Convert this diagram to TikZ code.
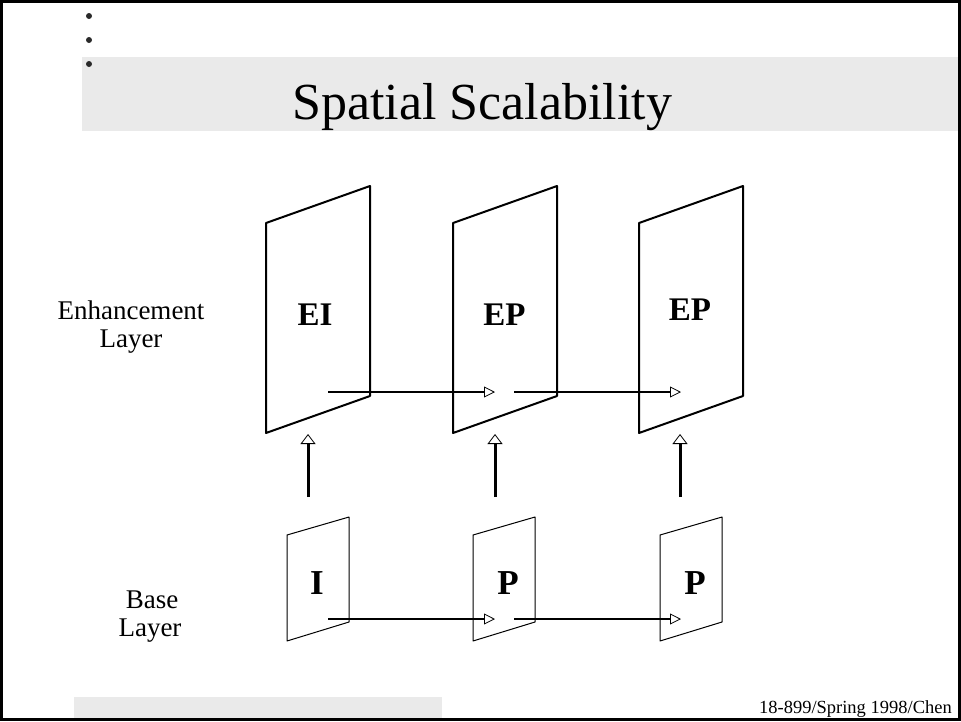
\documentclass[tikz,border=0pt]{standalone}
\usepackage{fontspec}
\setmainfont{Liberation Serif}
\usetikzlibrary{arrows.meta}
\definecolor{bandgray}{HTML}{EAEAEA}
\definecolor{dotgray}{HTML}{2A2A2A}
\begin{document}
\begin{tikzpicture}[x=1pt,y=-1pt,
  txt/.style={inner sep=0pt, anchor=base},
  lbl/.style={txt, font=\fontsize{27}{29}\selectfont},
  eframe/.style={draw, line width=2pt, line join=round},
  bframe/.style={draw, line width=1pt, line join=round},
  hollow/.style={draw, line width=2.2pt,
    arrows={-Triangle[fill=white, line width=0.8pt, length=11pt, width=11pt]}},
  hollowup/.style={draw, line width=3pt,
    arrows={-Triangle[fill=white, line width=0.8pt, length=10pt, width=15pt]}},
  eplane/.pic={\path[eframe] (0,0) -- (104,-37) -- (104,173) -- (0,210) -- cycle;},
  bplane/.pic={\path[bframe] (0,0) -- (62,-18) -- (62,87) -- (0,106) -- cycle;}]
\useasboundingbox (0,0) rectangle (961,721);

% slide background: title band, footer band, frame
\fill[bandgray] (82,57) rectangle (961,131);
\fill[bandgray] (74,697) rectangle (442,719);
\draw[line width=3pt] (1.5,1.5) rectangle (959.5,719.5);

% bullets
\foreach \yy in {16,40,64} \fill[dotgray] (89,\yy) circle (3);

% title and footer
\node[txt, font=\fontsize{52}{60}\selectfont] (title) at (482,119) {Spatial Scalability};
\node[inner sep=0pt, anchor=base east, font=\fontsize{18.5}{22}\selectfont] (footer) at (952,713) {18-899/Spring 1998/Chen};

% row labels
\node[lbl] (enhA) at (131,319) {Enhancement};
\node[lbl] (enhB) at (131,347) {Layer};
\node[lbl] (baseA) at (152,608) {Base};
\node[lbl] (baseB) at (150,636) {Layer};

% enhancement layer frames
\pic at (266,223) {eplane};
\pic at (453,223) {eplane};
\pic at (639,223) {eplane};
\node[txt, font=\bfseries\fontsize{33}{35}\selectfont] (EI) at (315,325) {EI};
\node[txt, font=\bfseries\fontsize{33}{35}\selectfont] (EP1) at (504.5,325) {EP};
\node[txt, font=\bfseries\fontsize{33}{35}\selectfont] (EP2) at (690,320) {EP};

% base layer frames
\pic at (287,535) {bplane};
\pic at (473,535) {bplane};
\pic at (660,535) {bplane};
\node[txt, font=\bfseries\fontsize{35}{37}\selectfont] (I) at (317,594) {I};
\node[txt, font=\bfseries\fontsize{35}{37}\selectfont] (P1) at (508,594) {P};
\node[txt, font=\bfseries\fontsize{35}{37}\selectfont] (P2) at (695,594) {P};

% connector end points
\coordinate (e1s) at (328,392);
\coordinate (e2t) at (495,392);
\coordinate (e2s) at (514,392);
\coordinate (e3t) at (681,392);
\coordinate (b1s) at (328,619);
\coordinate (b2t) at (495,619);
\coordinate (b2s) at (514,619);
\coordinate (b3t) at (681,619);
\coordinate (u1s) at (308,497);
\coordinate (u1t) at (308,434);
\coordinate (u2s) at (495,497);
\coordinate (u2t) at (495,434);
\coordinate (u3s) at (680,497);
\coordinate (u3t) at (680,434);

% prediction arrows
\path[hollow] (e1s) -- (e2t);
\path[hollow] (e2s) -- (e3t);
\path[hollow] (b1s) -- (b2t);
\path[hollow] (b2s) -- (b3t);
\path[hollowup] (u1s) -- (u1t);
\path[hollowup] (u2s) -- (u2t);
\path[hollowup] (u3s) -- (u3t);
\end{tikzpicture}
\end{document}
